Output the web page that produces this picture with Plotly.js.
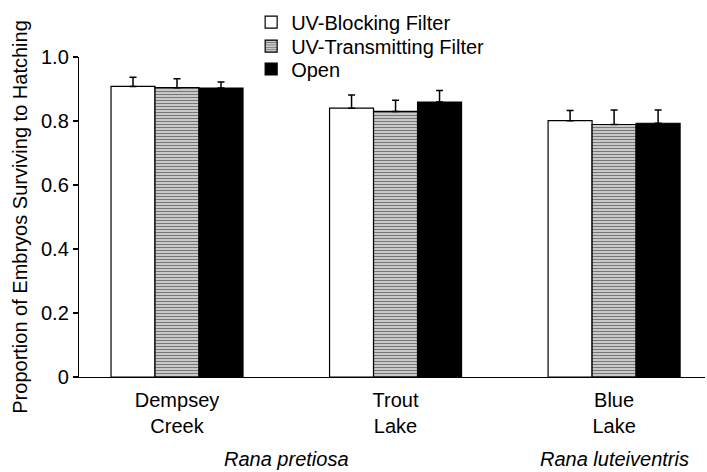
<!DOCTYPE html>
<html>
<head>
<meta charset="utf-8">
<script src="https://cdn.plot.ly/plotly-3.0.1.min.js"></script>
<style>body{margin:0;background:#fff}#chart{width:707px;height:472px}</style>
</head>
<body>
<div id="chart"></div>
<script>
const sites = ["Dempsey<br>Creek", "Trout<br>Lake", "Blue<br>Lake"];
const seriesNames = ["UV-Blocking Filter", "UV-Transmitting Filter", "Open"];
const uvBlocking = [0.908, 0.840, 0.801];
const uvBlockingErr = [0.029, 0.041, 0.032];
const uvTransmitting = [0.904, 0.830, 0.789];
const uvTransmittingErr = [0.028, 0.035, 0.045];
const openVals = [0.903, 0.859, 0.793];
const openErr = [0.019, 0.036, 0.041];
const speciesLabels = ["Rana pretiosa", "Rana luteiventris"];
const speciesPos = [0.5, 2];
const yTicks = [0, 0.2, 0.4, 0.6, 0.8, 1.0];
const yTickText = ["0", "0.2", "0.4", "0.6", "0.8", "1.0"];

const xs = [0, 1, 2];
function errObj(arr) {
  return {type: "data", symmetric: false, array: arr, arrayminus: arr.map(() => 0),
          color: "#000", thickness: 1.5, width: 3.5};
}
const traces = [
  {type: "bar", name: seriesNames[0], legend: "legend", x: xs, y: uvBlocking, error_y: errObj(uvBlockingErr),
   marker: {color: "#fff", line: {color: "#000", width: 1.2}}},
  {type: "bar", name: seriesNames[1], legend: "legend2", x: xs, y: uvTransmitting, error_y: errObj(uvTransmittingErr),
   marker: {color: "#fff", line: {color: "#000", width: 1.2},
            pattern: {shape: "-", fgcolor: "#777", bgcolor: "#fff", size: 3, solidity: 0.6}}},
  {type: "bar", name: seriesNames[2], legend: "legend3", x: xs, y: openVals, error_y: errObj(openErr),
   marker: {color: "#000", line: {color: "#000", width: 1.2}}}
];

const fontFam = "Liberation Sans, Arial, Helvetica, sans-serif";
const annotations = speciesLabels.map((t, i) => ({
  text: "<i>" + t + "</i>", x: speciesPos[i], xref: "x", y: -0.255, yref: "paper",
  yanchor: "middle", xanchor: "center", showarrow: false,
  font: {family: fontFam, size: 20, color: "#000"}
}));

function leg(y) {
  return {x: 0.275, y: y, xanchor: "left", yanchor: "middle", bgcolor: "rgba(0,0,0,0)",
          font: {family: fontFam, size: 20, color: "#000"}, itemwidth: 30};
}

const layout = {
  width: 707, height: 472,
  margin: {l: 79, r: 2, t: 57, b: 95},
  paper_bgcolor: "#fff", plot_bgcolor: "#fff",
  font: {family: fontFam, size: 20, color: "#000"},
  barmode: "group", bargap: 0.396, bargroupgap: 0,
  showlegend: true,
  legend: leg(1.109),
  legend2: leg(1.034),
  legend3: leg(0.9625),
  xaxis: {range: [-0.4485, 2.416], tickvals: xs, ticktext: sites, showgrid: false, zeroline: false,
          showline: true, linecolor: "#000", linewidth: 1.2, ticks: "", tickfont: {size: 20},
          ticklabelstandoff: 5, fixedrange: true},
  yaxis: {range: [0, 1.0], tickvals: yTicks, ticktext: yTickText, showgrid: false, zeroline: false,
          showline: true, linecolor: "#000", linewidth: 1.2, ticks: "outside", ticklen: 5, tickwidth: 1.2,
          tickcolor: "#000", tickfont: {size: 20},
          title: {text: "Proportion of Embryos Surviving to Hatching", font: {size: 20}, standoff: 8}},
  annotations: annotations
};
Plotly.newPlot("chart", traces, layout, {displayModeBar: false, staticPlot: true});
</script>
</body>
</html>
